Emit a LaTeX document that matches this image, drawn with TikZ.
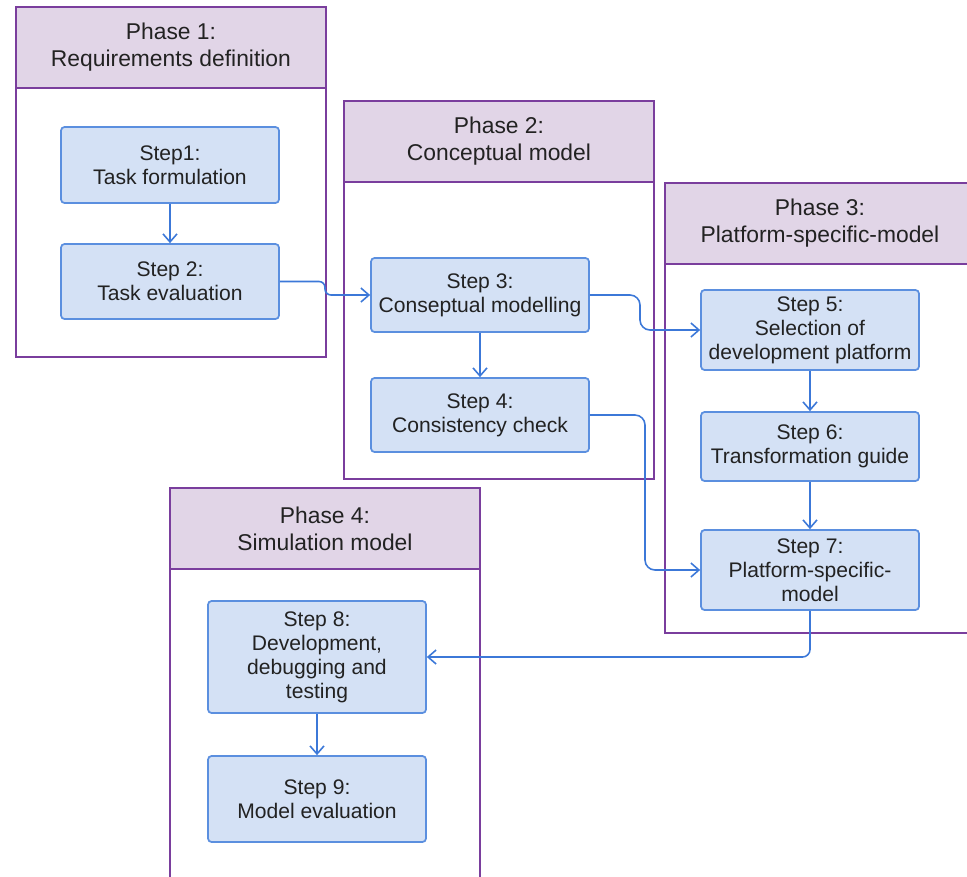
\documentclass[tikz,border=0pt]{standalone}
\usepackage{fontspec}
\setmainfont{Liberation Sans}
\usetikzlibrary{arrows.meta}

\definecolor{phaseline}{HTML}{7A3E9D}
\definecolor{phasefill}{HTML}{E1D5E7}
\definecolor{stepline}{HTML}{5B8FDF}
\definecolor{stepfill}{HTML}{D4E1F5}
\definecolor{flowline}{HTML}{3C78D8}
\definecolor{textcol}{HTML}{222222}

\begin{document}
\begin{tikzpicture}[x=0.02cm,y=-0.02cm,
    phasehead/.style={draw=phaseline,fill=phasefill,line width=1.1pt,anchor=north west,
      minimum width=6.2cm,minimum height=1.62cm,align=center,text=textcol,outer sep=0pt,
      font=\fontsize{13}{15.3}\selectfont},
    phasebody/.style={draw=phaseline,line width=1.1pt},
    stepbox/.style={draw=stepline,fill=stepfill,line width=1pt,rounded corners=2pt,
      minimum width=4.36cm,align=center,text=textcol,inner sep=1pt,
      font=\fontsize{12}{13.6}\selectfont},
    flow/.style={draw=flowline,line width=0.9pt,-{Straight Barb[length=1.6mm,width=2.8mm]}}]
  \useasboundingbox (0,0) rectangle (967,876);
  \clip (0,0) rectangle (967,876);

  % phases
  \node[phasehead] (ph1) at (16,7) {Phase 1:\\Requirements definition};
  \draw[phasebody] (ph1.south west) rectangle (ph1.south east |- 0,357);
  \node[phasehead] (ph2) at (344,101) {Phase 2:\\Conceptual model};
  \draw[phasebody] (ph2.south west) rectangle (ph2.south east |- 0,479);
  \node[phasehead] (ph3) at (665,183) {Phase 3:\\Platform-specific-model};
  \draw[phasebody] (ph3.south west) rectangle (ph3.south east |- 0,633);
  \node[phasehead] (ph4) at (170,488) {Phase 4:\\Simulation model};
  \draw[phasebody] (ph4.south west) rectangle (ph4.south east |- 0,900);

  % steps
  \node[stepbox,minimum height=1.52cm] (s1) at (170,165) {Step1:\\Task formulation};
  \node[stepbox,minimum height=1.5cm] (s2) at (170,281.5) {Step 2:\\Task evaluation};
  \node[stepbox,minimum height=1.48cm] (s3) at (480,295) {Step 3:\\Conseptual modelling};
  \node[stepbox,minimum height=1.48cm] (s4) at (480,415) {Step 4:\\Consistency check};
  \node[stepbox,minimum height=1.6cm] (s5) at (810,330) {Step 5:\\Selection of\\development platform};
  \node[stepbox,minimum height=1.38cm] (s6) at (810,446.5) {Step 6:\\Transformation guide};
  \node[stepbox,minimum height=1.6cm] (s7) at (810,570) {Step 7:\\Platform-specific-\\model};
  \node[stepbox,minimum height=2.24cm] (s8) at (317,657) {Step 8:\\Development,\\debugging and\\testing};
  \node[stepbox,minimum height=1.72cm] (s9) at (317,799) {Step 9:\\Model evaluation};

  % connectors
  \draw[flow] (s1) -- (s2);
  \draw[flow,rounded corners=0.12cm] (s2.east) -- (325,281.5) -- (325,295) -- (s3.west);
  \draw[flow] (s3) -- (s4);
  \draw[flow,rounded corners=0.2cm] (s3.east) -- (640,295) -- (640,330) -- (s5.west);
  \draw[flow,rounded corners=0.2cm] (s4.east) -- (645,415) -- (645,570) -- (s7.west);
  \draw[flow] (s5) -- (s6);
  \draw[flow] (s6) -- (s7);
  \draw[flow,rounded corners=0.15cm] (s7.south) -- (810,657) -- (s8.east);
  \draw[flow] (s8) -- (s9);
\end{tikzpicture}
\end{document}
